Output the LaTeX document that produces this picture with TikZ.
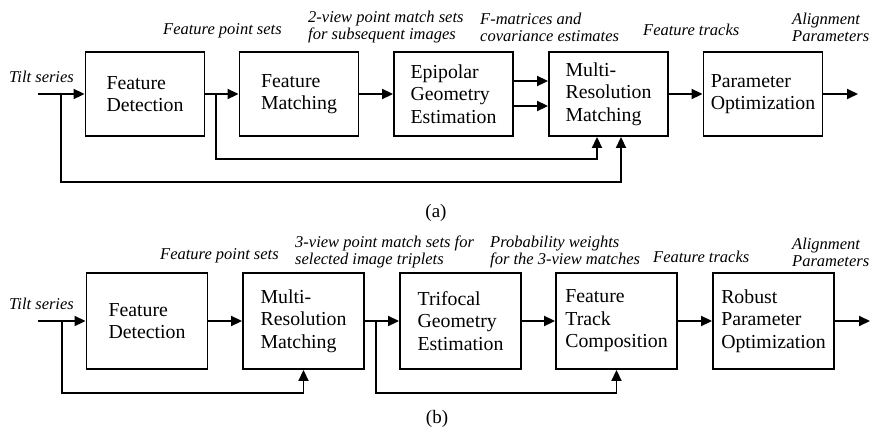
\documentclass[tikz,border=0pt]{standalone}
\usepackage{fontspec}
\setmainfont{Liberation Serif}
\usetikzlibrary{arrows.meta}
\newcommand{\boxfont}{\fontsize{19.8}{22.5}\selectfont}
\newcommand{\tagfont}{\fontsize{16.5}{17}\selectfont\itshape}

\begin{document}
\begin{tikzpicture}[x=1pt, y=-1pt,
    block/.style={draw, line width=1.9pt, minimum width=119pt,
                  minimum height=84pt, align=left, font=\boxfont, inner sep=2pt},
    tag/.style={font=\tagfont, align=left, inner sep=0pt, anchor=west},
    wire/.style={line width=1.9pt},
    arr/.style={wire, -{Triangle[length=11pt,width=10pt]}}]
  \useasboundingbox (0,0) rectangle (871,432);

  % (a) pipeline
  \node[block] (fdA) at (145,94)   {Feature\\Detection};
  \node[block] (fmA) at (299,94)   {Feature\\Matching};
  \node[block] (egA) at (453.5,94) {Epipolar\\Geometry\\Estimation};
  \node[block] (mrA) at (608.5,94) {Multi-\\Resolution\\Matching};
  \node[block] (poA) at (763,94)   {Parameter\\Optimization};

  \coordinate (inA)  at (38,94);
  \coordinate (outA) at (858,94);
  \coordinate (tapA1) at (61,94);
  \coordinate (tapA2) at (216,94);

  \node[tag] (tiltA)  at (9,77)    {Tilt series};
  \node[tag] (fpsA)   at (163,31)  {Feature point sets};
  \node[tag] (pmA)    at (308,27)  {2-view point match sets\\for subsequent images};
  \node[tag] (fmatA)  at (480,27)  {F-matrices and\\covariance estimates};
  \node[tag] (ftA)    at (643,30)  {Feature tracks};
  \node[tag] (apA)    at (792,27)  {Alignment\\Parameters};

  \draw[arr] (inA) -- (fdA);
  \draw[arr] (fdA) -- (fmA);
  \draw[arr] (fmA) -- (egA);
  \draw[arr] ([yshift=13pt]egA.east) -- ([yshift=13pt]mrA.west);
  \draw[arr] ([yshift=-12pt]egA.east) -- ([yshift=-12pt]mrA.west);
  \draw[arr] (mrA) -- (poA);
  \draw[arr] (poA) -- (outA);
  \draw[arr] (tapA2) -- ++(0,65) -| ([xshift=-11.5pt]mrA.south);
  \draw[arr] (tapA1) -- ++(0,88) -| ([xshift=12.5pt]mrA.south);

  \node[font=\fontsize{19}{22}\selectfont] (capA) at (436,213) {(a)};

  % (b) pipeline
  \begin{scope}[block/.append style={minimum width=121pt, minimum height=96pt}]
    \node[block] (fdB) at (147,321)   {Feature\\Detection};
    \node[block] (mrB) at (303.5,321) {Multi-\\Resolution\\Matching};
    \node[block] (tgB) at (460.5,321) {Trifocal\\Geometry\\Estimation};
    \node[block] (fcB) at (616.5,321) {Feature\\Track\\Composition};
    \node[block] (rpB) at (773.5,321) {Robust\\Parameter\\Optimization};
  \end{scope}

  \coordinate (inB)  at (38,321);
  \coordinate (outB) at (870,321);
  \coordinate (tapB1) at (62,321);
  \coordinate (tapB2) at (376,321);

  \node[tag] (tiltB)  at (9,304)   {Tilt series};
  \node[tag] (fpsB)   at (160,256) {Feature point sets};
  \node[tag] (pmB)    at (295,252) {3-view point match sets for\\selected image triplets};
  \node[tag] (pwB)    at (490,252) {Probability weights\\for the 3-view matches};
  \node[tag] (ftB)    at (653,257) {Feature tracks};
  \node[tag] (apB)    at (792,252) {Alignment\\Parameters};

  \draw[arr] (inB) -- (fdB);
  \draw[arr] (fdB) -- (mrB);
  \draw[arr] (mrB) -- (tgB);
  \draw[arr] (tgB) -- (fcB);
  \draw[arr] (fcB) -- (rpB);
  \draw[arr] (rpB) -- (outB);
  \draw[arr] (tapB1) -- ++(0,72) -| (mrB.south);
  \draw[arr] (tapB2) -- ++(0,72) -| (fcB.south);

  \node[font=\fontsize{19}{22}\selectfont] (capB) at (437,419) {(b)};
\end{tikzpicture}
\end{document}
